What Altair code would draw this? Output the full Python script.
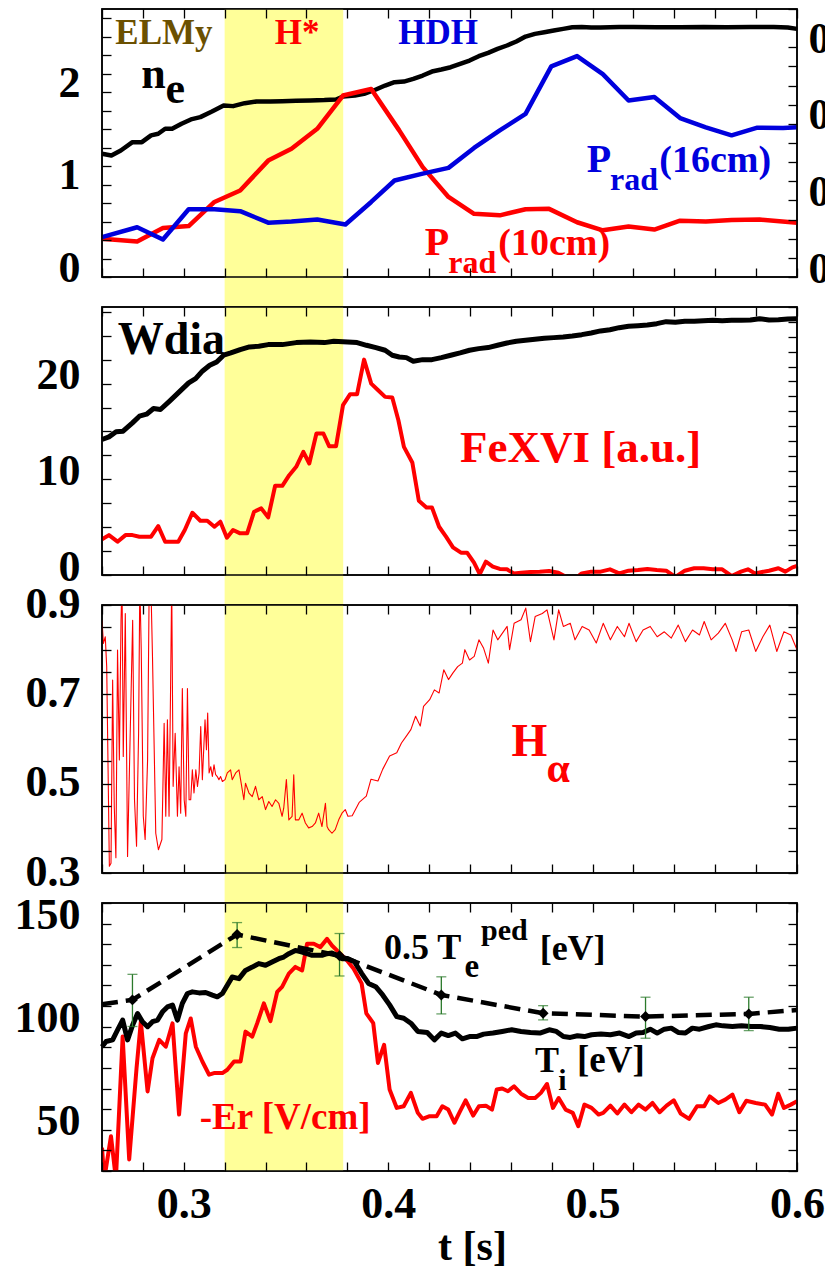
import json
import altair as alt
import pandas as pd

# ---------------- data ----------------
BAND_T = [0.32, 0.378]

NE_T = [0.2600, 0.2646, 0.2692, 0.2749, 0.2795, 0.2840, 0.2875, 0.2909, 0.2943, 0.2989, 0.3035, 0.3081, 0.3138,
        0.3195, 0.3241, 0.3298, 0.3356, 0.3424, 0.3482, 0.3550, 0.3619, 0.3688, 0.3745, 0.3779, 0.3837, 0.3882,
        0.3940, 0.3985, 0.4031, 0.4077, 0.4123, 0.4169, 0.4214, 0.4260, 0.4306, 0.4352, 0.4398, 0.4443, 0.4489,
        0.4535, 0.4581, 0.4627, 0.4672, 0.4718, 0.4764, 0.4810, 0.4856, 0.4901, 0.4947, 0.4993, 0.5039, 0.5085,
        0.5130, 0.5199, 0.5314, 0.5428, 0.5543, 0.5657, 0.5772, 0.5886, 0.5955, 0.6000]
NE_V = [1.333, 1.315, 1.369, 1.459, 1.459, 1.532, 1.550, 1.604, 1.604, 1.658, 1.705, 1.730, 1.791, 1.856, 1.849,
        1.881, 1.899, 1.899, 1.903, 1.906, 1.910, 1.914, 1.921, 1.953, 1.964, 1.982, 2.029, 2.072, 2.108, 2.115,
        2.144, 2.180, 2.223, 2.245, 2.270, 2.306, 2.342, 2.389, 2.425, 2.468, 2.505, 2.548, 2.602, 2.631, 2.649,
        2.667, 2.685, 2.703, 2.706, 2.699, 2.699, 2.703, 2.706, 2.706, 2.703, 2.703, 2.706, 2.703, 2.706, 2.706,
        2.699, 2.685]

P10_T = [0.260, 0.2772, 0.2898, 0.3024, 0.3150, 0.3276, 0.3413, 0.3527, 0.3653, 0.3779, 0.3917, 0.4054, 0.4169,
         0.4295, 0.4420, 0.4546, 0.4672, 0.4787, 0.4924, 0.5050, 0.5176, 0.5302, 0.5428, 0.5554, 0.5680, 0.5817, 0.6]
P10_V = [0.100, 0.093, 0.128, 0.133, 0.196, 0.226, 0.304, 0.335, 0.387, 0.474, 0.491, 0.383, 0.287, 0.209, 0.165,
         0.161, 0.177, 0.178, 0.143, 0.122, 0.132, 0.124, 0.147, 0.145, 0.149, 0.150, 0.142]

P16_T = [0.260, 0.2772, 0.2898, 0.3024, 0.3150, 0.3276, 0.3413, 0.3527, 0.3653, 0.3791, 0.3917, 0.4031, 0.4169,
         0.4295, 0.4420, 0.4546, 0.4672, 0.4798, 0.4924, 0.5050, 0.5176, 0.5302, 0.5428, 0.5554, 0.5680, 0.5806,
         0.5932, 0.6]
P16_V = [0.104, 0.130, 0.098, 0.177, 0.177, 0.172, 0.142, 0.145, 0.150, 0.137, 0.196, 0.252, 0.270, 0.285, 0.337,
         0.383, 0.426, 0.550, 0.577, 0.530, 0.461, 0.470, 0.415, 0.391, 0.370, 0.390, 0.389, 0.391]

W_T = [0.2600, 0.2634, 0.2669, 0.2703, 0.2749, 0.2783, 0.2818, 0.2852, 0.2886, 0.2932, 0.2978, 0.3024, 0.3058,
       0.3092, 0.3127, 0.3161, 0.3195, 0.3230, 0.3276, 0.3321, 0.3367, 0.3413, 0.3482, 0.3550, 0.3619, 0.3688,
       0.3734, 0.3802, 0.3848, 0.3894, 0.3940, 0.3985, 0.4020, 0.4054, 0.4089, 0.4123, 0.4169, 0.4214, 0.4260,
       0.4306, 0.4352, 0.4398, 0.4443, 0.4489, 0.4535, 0.4581, 0.4627, 0.4672, 0.4718, 0.4764, 0.4810, 0.4856,
       0.4901, 0.4947, 0.4993, 0.5039, 0.5085, 0.5130, 0.5176, 0.5222, 0.5268, 0.5314, 0.5360, 0.5405, 0.5451,
       0.5497, 0.5543, 0.5588, 0.5634, 0.5680, 0.5726, 0.5772, 0.5817, 0.5863, 0.5909, 0.5955, 0.6000]
W_V = [14.16, 14.43, 14.96, 15.03, 15.90, 16.59, 16.80, 17.39, 17.29, 18.19, 19.13, 20.07, 20.52, 21.32, 21.91,
       22.26, 22.96, 23.20, 23.55, 23.83, 23.90, 24.07, 24.07, 24.28, 24.35, 24.28, 24.42, 24.35, 24.28, 24.00,
       23.76, 23.48, 22.96, 22.78, 22.71, 22.33, 22.50, 22.50, 22.71, 22.96, 23.20, 23.48, 23.65, 23.76, 24.00,
       24.24, 24.42, 24.52, 24.63, 24.73, 24.80, 24.87, 24.97, 25.11, 25.29, 25.50, 25.63, 25.84, 25.98, 26.05,
       26.12, 26.26, 26.47, 26.40, 26.50, 26.50, 26.57, 26.61, 26.57, 26.61, 26.61, 26.64, 26.78, 26.64, 26.68,
       26.75, 26.78]

FE_T = [0.2600, 0.2634, 0.2676, 0.2715, 0.2749, 0.2783, 0.2840, 0.2875, 0.2909, 0.2973, 0.3005, 0.3042, 0.3081,
        0.3115, 0.3150, 0.3179, 0.3211, 0.3241, 0.3276, 0.3310, 0.3344, 0.3379, 0.3413, 0.3447, 0.3482, 0.3516,
        0.3550, 0.3585, 0.3614, 0.3649, 0.3683, 0.3711, 0.3745, 0.3779, 0.3814, 0.3848, 0.3882, 0.3917, 0.3951,
        0.3985, 0.4020, 0.4050, 0.4077, 0.4118, 0.4150, 0.4187, 0.4214, 0.4249, 0.4283, 0.4317, 0.4356, 0.4386,
        0.4420, 0.4448, 0.4478, 0.4512, 0.4546, 0.4581, 0.4615, 0.4650, 0.4695, 0.4741, 0.4787, 0.4833, 0.4879,
        0.4913, 0.4947, 0.4993, 0.5039, 0.5085, 0.5130, 0.5176, 0.5222, 0.5268, 0.5314, 0.5360, 0.5405, 0.5451,
        0.5497, 0.5543, 0.5588, 0.5634, 0.5680, 0.5726, 0.5760, 0.5794, 0.5863, 0.5909, 0.5943, 0.5978, 0.6000]
FE_V = [3.72, 4.17, 3.48, 4.17, 4.17, 4.00, 4.00, 5.11, 3.48, 3.48, 4.70, 6.50, 5.67, 5.67, 5.04, 5.57, 3.90, 4.70,
        4.35, 4.35, 6.61, 6.96, 6.02, 9.32, 9.32, 10.43, 11.30, 12.87, 11.65, 14.78, 14.78, 13.46, 13.46, 17.74,
        18.89, 18.89, 22.50, 20.00, 19.30, 18.61, 18.54, 16.17, 13.39, 11.76, 7.76, 7.06, 7.06, 5.04, 4.00, 2.89,
        2.33, 2.33, 1.29, 0.10, 1.39, 0.87, 0.63, 0.59, 0.17, 0.24, 0.31, 0.35, 0.42, 0.24, -0.30, -0.40, 0.17,
        0.35, 0.35, 0.59, 0.17, 0.45, 0.52, 0.63, 0.52, 0.45, -0.20, 0.45, 0.70, 0.70, 0.59, 0.59, -0.10, 0.35,
        0.59, 0.17, 0.45, 0.70, 0.35, 0.80, 0.94]

HA_T = [0.2600, 0.2607, 0.2616, 0.2623, 0.2636, 0.2644, 0.2652, 0.2660, 0.2668, 0.2676,
        0.2685, 0.2693, 0.2698, 0.2704, 0.2714, 0.2725, 0.2737, 0.2750, 0.2759, 0.2769,
        0.2779, 0.2785, 0.2792, 0.2802, 0.2811, 0.2823, 0.2831, 0.2839, 0.2847, 0.2863,
        0.2876, 0.2893, 0.2904, 0.2912, 0.2920, 0.2928, 0.2935, 0.2941, 0.2948, 0.2958,
        0.2969, 0.2977, 0.2985, 0.2993, 0.3002, 0.3010, 0.3018, 0.3026, 0.3034, 0.3042,
        0.3050, 0.3059, 0.3067, 0.3075, 0.3083, 0.3091, 0.3104, 0.3111, 0.3117, 0.3124,
        0.3132, 0.3140, 0.3148, 0.3156, 0.3164, 0.3172, 0.3180, 0.3189, 0.3202, 0.3213,
        0.3229, 0.3237, 0.3254, 0.3270, 0.3278, 0.3294, 0.3302, 0.3319, 0.3335, 0.3351,
        0.3367, 0.3384, 0.3400, 0.3416, 0.3432, 0.3449, 0.3465, 0.3481, 0.3489, 0.3502,
        0.3514, 0.3530, 0.3538, 0.3546, 0.3563, 0.3579, 0.3595, 0.3611, 0.3628, 0.3644,
        0.3660, 0.3676, 0.3693, 0.3701, 0.3709, 0.3725, 0.3741, 0.3758, 0.3774, 0.3790, 0.3803,
        0.3824, 0.3858, 0.3893, 0.3916, 0.3950, 0.3973, 0.4007, 0.4042, 0.4065, 0.4088,
        0.4111, 0.4134, 0.4157, 0.4173, 0.4203, 0.4226, 0.4249, 0.4272, 0.4295, 0.4317,
        0.4340, 0.4363, 0.4375, 0.4398, 0.4421, 0.4444, 0.4467, 0.4490, 0.4513, 0.4536,
        0.4559, 0.4582, 0.4594, 0.4616, 0.4650, 0.4673, 0.4696, 0.4719, 0.4754, 0.4777,
        0.4811, 0.4834, 0.4857, 0.4891, 0.4914, 0.4949, 0.4983, 0.5018, 0.5052, 0.5087,
        0.5121, 0.5156, 0.5178, 0.5213, 0.5247, 0.5282, 0.5316, 0.5351, 0.5385, 0.5419,
        0.5454, 0.5489, 0.5523, 0.5546, 0.5580, 0.5615, 0.5649, 0.5683, 0.5702, 0.5729,
        0.5764, 0.5798, 0.5833, 0.5867, 0.5901, 0.5936, 0.5970, 0.6000]
HA_V = [0.866, 0.814, 0.829, 0.762, 0.315, 0.322, 0.732, 0.449, 0.334, 0.799,
        0.553, 0.866, 0.950, 0.561, 0.881, 0.337, 0.591, 0.866, 0.464, 0.360,
        0.613, 0.950, 0.799, 0.427, 0.375, 0.553, 0.950, 0.950, 0.784, 0.389,
        0.352, 0.375, 0.635, 0.427, 0.643, 0.427, 0.695, 0.950, 0.494, 0.613,
        0.427, 0.538, 0.434, 0.713, 0.464, 0.427, 0.713, 0.464, 0.464, 0.531,
        0.479, 0.531, 0.494, 0.524, 0.628, 0.509, 0.643, 0.576, 0.658, 0.524,
        0.538, 0.516, 0.542, 0.520, 0.516, 0.509, 0.516, 0.505, 0.509, 0.524,
        0.531, 0.509, 0.524, 0.531, 0.509, 0.464, 0.501, 0.479, 0.471, 0.494,
        0.464, 0.471, 0.442, 0.460, 0.449, 0.464, 0.456, 0.427, 0.445, 0.509,
        0.419, 0.427, 0.520, 0.419, 0.419, 0.434, 0.412, 0.401, 0.404, 0.412,
        0.434, 0.404, 0.456, 0.404, 0.397, 0.389, 0.397, 0.419, 0.434, 0.442, 0.427,
        0.428, 0.458, 0.472, 0.510, 0.506, 0.532, 0.562, 0.569, 0.591, 0.606,
        0.621, 0.651, 0.629, 0.673, 0.688, 0.710, 0.703, 0.755, 0.733, 0.748,
        0.762, 0.770, 0.800, 0.777, 0.785, 0.822, 0.803, 0.770, 0.844, 0.822,
        0.837, 0.852, 0.800, 0.859, 0.867, 0.893, 0.818, 0.874, 0.881, 0.889,
        0.822, 0.889, 0.852, 0.859, 0.822, 0.852, 0.844, 0.815, 0.859, 0.822,
        0.852, 0.829, 0.859, 0.818, 0.844, 0.852, 0.829, 0.840, 0.826, 0.855,
        0.818, 0.844, 0.833, 0.863, 0.822, 0.837, 0.859, 0.822, 0.796, 0.840,
        0.844, 0.796, 0.829, 0.855, 0.796, 0.840, 0.833, 0.800]

TI_T = [0.2600, 0.2620, 0.2652, 0.2676, 0.2701, 0.2725, 0.2750, 0.2774, 0.2798, 0.2823,
        0.2847, 0.2872, 0.2896, 0.2920, 0.2945, 0.2969, 0.2993, 0.3018, 0.3042, 0.3075,
        0.3107, 0.3140, 0.3164, 0.3189, 0.3213, 0.3237, 0.3270, 0.3302, 0.3335, 0.3367,
        0.3400, 0.3432, 0.3465, 0.3489, 0.3514, 0.3546, 0.3579, 0.3603, 0.3628, 0.3652,
        0.3676, 0.3701, 0.3725, 0.3750, 0.3774, 0.3801, 0.3835, 0.3870, 0.3904, 0.3939,
        0.3973, 0.4007, 0.4042, 0.4076, 0.4111, 0.4145, 0.4191, 0.4226, 0.4260, 0.4294,
        0.4329, 0.4363, 0.4398, 0.4432, 0.4467, 0.4513, 0.4558, 0.4604, 0.4650, 0.4696,
        0.4742, 0.4788, 0.4823, 0.4857, 0.4891, 0.4926, 0.4960, 0.4995, 0.5041, 0.5087,
        0.5132, 0.5178, 0.5213, 0.5247, 0.5282, 0.5316, 0.5351, 0.5385, 0.5419, 0.5454,
        0.5488, 0.5523, 0.5569, 0.5603, 0.5638, 0.5684, 0.5729, 0.5775, 0.5821, 0.5867,
        0.5913, 0.5959, 0.6000]
TI_V = [90.3, 92.8, 93.6, 98.4, 103.2, 93.6, 100.8, 106.4, 102.4, 100.0,
        102.4, 103.2, 107.2, 109.6, 110.5, 103.2, 111.3, 116.1, 116.9, 116.4,
        116.6, 115.3, 114.5, 116.1, 120.1, 124.1, 123.3, 127.3, 128.9, 130.6,
        129.8, 131.4, 133.0, 133.8, 135.4, 137.0, 136.2, 135.4, 134.6, 134.6,
        134.6, 135.4, 135.7, 134.6, 133.0, 133.1, 131.5, 125.9, 121.0, 119.4,
        115.4, 110.6, 104.9, 104.1, 101.7, 97.7, 97.2, 93.6, 96.9, 95.7,
        96.9, 94.1, 95.2, 95.2, 96.4, 96.9, 97.7, 98.5, 97.7, 97.2,
        96.9, 98.5, 97.7, 95.2, 94.8, 95.6, 95.2, 96.1, 96.4, 96.1,
        96.9, 95.2, 96.9, 97.2, 98.8, 96.9, 98.8, 99.3, 97.2, 96.9,
        99.3, 98.8, 100.1, 100.9, 100.4, 100.1, 100.4, 100.1, 100.1, 99.6,
        98.8, 98.8, 99.3]

ER_T = [0.2600, 0.2611, 0.2644, 0.2668, 0.2701, 0.2733, 0.2769, 0.2790, 0.2823, 0.2847,
        0.2880, 0.2912, 0.2945, 0.2977, 0.3010, 0.3034, 0.3059, 0.3091, 0.3124, 0.3148,
        0.3189, 0.3213, 0.3246, 0.3278, 0.3302, 0.3335, 0.3359, 0.3392, 0.3424, 0.3457,
        0.3481, 0.3514, 0.3546, 0.3579, 0.3603, 0.3636, 0.3668, 0.3701, 0.3725, 0.3758,
        0.3798, 0.3831, 0.3870, 0.3893, 0.3927, 0.3950, 0.3980, 0.4007, 0.4042, 0.4076,
        0.4111, 0.4145, 0.4168, 0.4203, 0.4237, 0.4265, 0.4294, 0.4324, 0.4352, 0.4379,
        0.4416, 0.4444, 0.4478, 0.4508, 0.4531, 0.4558, 0.4586, 0.4616, 0.4650, 0.4685,
        0.4719, 0.4747, 0.4777, 0.4806, 0.4834, 0.4868, 0.4903, 0.4930, 0.4960, 0.4995,
        0.5029, 0.5052, 0.5087, 0.5121, 0.5156, 0.5190, 0.5225, 0.5259, 0.5293, 0.5328,
        0.5362, 0.5397, 0.5431, 0.5472, 0.5511, 0.5546, 0.5573, 0.5615, 0.5649, 0.5684,
        0.5718, 0.5752, 0.5798, 0.5844, 0.5878, 0.5908, 0.5936, 0.5970, 0.6000]
ER_V = [41.3, 26.0, 46.9, 26.0, 95.2, 35.6, 79.9, 102.4, 68.6, 84.7,
        93.6, 90.3, 101.6, 57.4, 96.8, 104.0, 90.3, 83.1, 76.7, 77.5,
        77.5, 79.1, 83.1, 83.1, 97.6, 95.2, 101.6, 111.3, 102.7, 116.9,
        119.3, 125.7, 129.0, 127.3, 140.2, 140.2, 138.6, 142.6, 139.4, 136.2,
        132.2, 128.1, 121.0, 106.5, 101.7, 82.4, 91.2, 69.5, 60.6, 61.4,
        67.9, 58.2, 55.3, 56.6, 56.6, 61.4, 59.8, 53.4, 59.0, 64.3,
        56.9, 61.4, 61.7, 59.8, 69.5, 70.0, 68.7, 71.1, 67.5, 65.4,
        65.4, 67.9, 72.2, 60.6, 65.4, 59.8, 58.2, 51.7, 62.2, 60.6,
        57.4, 58.2, 61.7, 57.9, 62.2, 58.5, 62.2, 59.8, 63.0, 58.5,
        61.7, 64.3, 57.9, 55.3, 61.4, 61.4, 66.2, 63.0, 64.6, 67.1,
        58.5, 64.1, 63.0, 62.2, 57.4, 67.5, 60.6, 62.2, 63.8]

TE_T = [0.2749, 0.3261, 0.3762, 0.4260, 0.4758, 0.5259, 0.5764]
TE_V = [113.0, 144.7, 134.4, 115.4, 106.5, 104.9, 106.2]
TE_LO = [100.1, 138.4, 124.6, 106.2, 103.3, 94.4, 98.1]
TE_HI = [125.4, 150.5, 145.2, 124.2, 110.2, 114.3, 114.3]
TE_LINE_T = [0.2600, 0.2749, 0.3261, 0.3762, 0.4260, 0.4758, 0.5259, 0.5764, 0.6000]
TE_LINE_V = [110.9, 113.0, 144.7, 134.4, 115.4, 106.5, 104.9, 106.2, 108.1]

# axis ticks and labels
X_TICKS = [0.26, 0.28, 0.3, 0.32, 0.34, 0.36, 0.38, 0.4, 0.42, 0.44, 0.46, 0.48, 0.5, 0.52, 0.54, 0.56, 0.58, 0.6]
X_LABELED = [0.3, 0.4, 0.5, 0.6]
NE_TICKS = [0, 0.2, 0.4, 0.6, 0.8, 1, 1.2, 1.4, 1.6, 1.8, 2, 2.2, 2.4, 2.6, 2.8]
NE_LABELED = [0, 1, 2]
PR_TICKS = [0, 0.05, 0.1, 0.15, 0.2, 0.25, 0.3, 0.35, 0.4, 0.45, 0.5, 0.55, 0.6, 0.65, 0.7]
PR_LABELED = [0, 0.2, 0.4, 0.6]
W_TICKS = [0, 2.5, 5, 7.5, 10, 12.5, 15, 17.5, 20, 22.5, 25, 27.5]
W_LABELED = [0, 10, 20]
W_RTICKS = [round(28 * i / 18, 3) for i in range(19)]
HA_TICKS = [0.3, 0.35, 0.4, 0.45, 0.5, 0.55, 0.6, 0.65, 0.7, 0.75, 0.8, 0.85, 0.9]
HA_LABELED = [0.3, 0.5, 0.7, 0.9]
P4_TICKS = [30, 40, 50, 60, 70, 80, 90, 100, 110, 120, 130, 140, 150, 160]
P4_LABELED = [50, 100, 150]

# ---------------- style ----------------
W = 695
H = 268
GAP = 30
FONT = "Liberation Serif"
TICK = 9
YELLOW = "#FFFF99"
RED = "#FF0000"
BLUE = "#0000DD"
BROWN = "#6B5000"
GREEN = "#2B7A2B"

XS = alt.Scale(domain=[0.26, 0.6], nice=False, zero=False)


def yscale(dom):
    return alt.Scale(domain=dom, nice=False, zero=False)


def lab_expr(labeled, fmt):
    return "indexof(%s, datum.value) >= 0 ? format(datum.value, '%s') : ''" % (json.dumps(labeled), fmt)


def common_axis(**kw):
    base = dict(offset=-TICK, tickSize=TICK, tickColor="black", tickWidth=1.3, domain=False, grid=False,
                zindex=1, labelOverlap=False, labelFlush=False, title=None)
    base.update(kw)
    return alt.Axis(**base)


LBL = dict(labelFont=FONT, labelFontWeight="bold", labelFontSize=44, labelColor="black")


def x_bottom(show=False):
    if show:
        return common_axis(orient="bottom", values=X_TICKS, labelExpr=lab_expr(X_LABELED, ".1f"),
                           labelPadding=11, title="t [s]", titleFont=FONT, titleFontSize=42,
                           titleFontWeight="bold", titleColor="black", titleX=370, titleY=97,
                           titleAlign="center", titleBaseline="alphabetic", **LBL)
    return common_axis(orient="bottom", values=X_TICKS, labels=False)


def x_top():
    return common_axis(orient="top", values=X_TICKS, labels=False)


def y_left(ticks, labeled, fmt, loff):
    return common_axis(orient="left", values=ticks, labelExpr=lab_expr(labeled, fmt), labelPadding=22,
                       labelOffset=loff, **LBL)


def y_right(ticks, labeled=None, fmt=".1f", loff=0):
    if labeled is None:
        return common_axis(orient="right", values=ticks, labels=False)
    return common_axis(orient="right", values=ticks, labelExpr=lab_expr(labeled, fmt), labelPadding=11,
                       labelOffset=loff, **LBL)


def band(ext):
    df = pd.DataFrame({"a": [BAND_T[0]], "b": [BAND_T[1]]})
    return alt.Chart(df).mark_rect(color=YELLOW).encode(
        x=alt.X("a:Q", scale=XS, axis=x_bottom(ext == 0)), x2="b:Q",
        y=alt.value(0), y2=alt.value(H + ext))


def frame():
    return alt.Chart(pd.DataFrame({"k": [1]})).mark_rect(
        filled=False, color="black", strokeWidth=1.5).encode(strokeOpacity=alt.value(1))


def line(T, V, dom, color, width, xaxis=None, yaxis=None, dash=None, clip=False):
    df = pd.DataFrame({"t": T, "v": V})
    kw = dict(color=color, strokeWidth=width, clip=clip, strokeJoin="round")
    if dash:
        kw["strokeDash"] = dash
    return alt.Chart(df).mark_line(**kw).encode(
        x=alt.X("t:Q", scale=XS, axis=xaxis),
        y=alt.Y("v:Q", scale=yscale(dom), axis=yaxis))


def text(rows, dom, color, size, yaxis=None):
    df = pd.DataFrame(rows, columns=["t", "v", "s"])
    return alt.Chart(df).mark_text(font=FONT, fontWeight="bold", fontSize=size, color=color,
                                   align="left", baseline="alphabetic").encode(
        x=alt.X("t:Q", scale=XS, axis=None),
        y=alt.Y("v:Q", scale=yscale(dom), axis=yaxis),
        text="s:N")


NE_DOM = [0, 2.9]
PR_DOM = [0, 0.7]
W_DOM = [0, 28]
HA_DOM = [0.3, 0.9]
P4_DOM = [30, 160]

# ---------------- panel 1 ----------------
p1 = alt.layer(
    band(GAP),
    line(NE_T, NE_V, NE_DOM, "black", 4.5, xaxis=x_top(), yaxis=y_left(NE_TICKS, NE_LABELED, ".0f", -9)),
    line(P10_T, P10_V, PR_DOM, RED, 4.5, yaxis=y_right(PR_TICKS, PR_LABELED, ".1f", -8)),
    line(P16_T, P16_V, PR_DOM, BLUE, 4.5),
    text([(0.2665, 2.52, "ELMy")], NE_DOM, BROWN, 35),
    text([(0.3445, 2.52, "H*")], NE_DOM, RED, 35),
    text([(0.4049, 2.52, "HDH")], NE_DOM, BLUE, 35),
    text([(0.2792, 2.04, "n"), (0.2911, 1.88, "e")], NE_DOM, "black", 44),
    text([(0.4971, 1.136, "P")], NE_DOM, BLUE, 40),
    text([(0.5085, 0.938, "rad")], NE_DOM, BLUE, 32),
    text([(0.5326, 1.136, "(16cm)")], NE_DOM, BLUE, 38),
    text([(0.4179, 0.235, "P")], NE_DOM, RED, 40),
    text([(0.4294, 0.047, "rad")], NE_DOM, RED, 32),
    text([(0.4539, 0.235, "(10cm)")], NE_DOM, RED, 38),
    frame(),
).resolve_scale(y="independent").resolve_axis(x="independent", y="independent").properties(width=W, height=H)

# ---------------- panel 2 ----------------
p2 = alt.layer(
    band(GAP),
    line(W_T, W_V, W_DOM, "black", 5, xaxis=x_top(), yaxis=y_left(W_TICKS, W_LABELED, ".0f", -8)),
    line(FE_T, FE_V, W_DOM, RED, 4, yaxis=y_right(W_RTICKS), clip=True),
    text([(0.2677, 23.06, "Wdia")], W_DOM, "black", 46),
    text([(0.4351, 11.81, "FeXVI [a.u.]")], W_DOM, RED, 45),
    frame(),
).resolve_axis(x="independent", y="independent").properties(width=W, height=H)

# ---------------- panel 3 ----------------
p3 = alt.layer(
    band(GAP),
    line(HA_T, HA_V, HA_DOM, RED, 1.1, xaxis=x_top(), yaxis=y_left(HA_TICKS, HA_LABELED, ".1f", -1), clip=True),
    text([(0.4603, 0.563, "H")], HA_DOM, RED, 46, yaxis=y_right(HA_TICKS)),
    text([(0.4775, 0.503, "α")], HA_DOM, RED, 42),
    frame(),
).resolve_axis(x="independent", y="independent").properties(width=W, height=H)

# ---------------- panel 4 ----------------
err_df = pd.DataFrame({"t": TE_T, "lo": TE_LO, "hi": TE_HI})
err_bars = alt.Chart(err_df).mark_rule(color=GREEN, strokeWidth=1.3).encode(
    x=alt.X("t:Q", scale=XS, axis=None),
    y=alt.Y("lo:Q", scale=yscale(P4_DOM), axis=None), y2="hi:Q")
cap_lo = alt.Chart(err_df).mark_tick(color=GREEN, orient="horizontal", size=10, thickness=1.3).encode(
    x=alt.X("t:Q", scale=XS, axis=None), y=alt.Y("lo:Q", scale=yscale(P4_DOM), axis=None))
cap_hi = alt.Chart(err_df).mark_tick(color=GREEN, orient="horizontal", size=10, thickness=1.3).encode(
    x=alt.X("t:Q", scale=XS, axis=None), y=alt.Y("hi:Q", scale=yscale(P4_DOM), axis=None))
te_pts = alt.Chart(pd.DataFrame({"t": TE_T, "v": TE_V})).mark_point(
    shape="diamond", filled=True, size=120, color="black", opacity=1).encode(
    x=alt.X("t:Q", scale=XS, axis=None), y=alt.Y("v:Q", scale=yscale(P4_DOM), axis=None))

p4 = alt.layer(
    band(0),
    line(ER_T, ER_V, P4_DOM, RED, 4, xaxis=x_top(), yaxis=y_left(P4_TICKS, P4_LABELED, ".0f", -8), clip=True),
    line(TI_T, TI_V, P4_DOM, "black", 5, yaxis=y_right(P4_TICKS)),
    line(TE_LINE_T, TE_LINE_V, P4_DOM, "black", 4.5, dash=[16, 8]),
    err_bars, cap_lo, cap_hi, te_pts,
    text([(0.3979, 132.7, "0.5 T")], P4_DOM, "black", 36),
    text([(0.4373, 124.0, "e")], P4_DOM, "black", 33),
    text([(0.4454, 142.0, "ped")], P4_DOM, "black", 30),
    text([(0.4741, 132.3, "[eV]")], P4_DOM, "black", 36),
    text([(0.4718, 77.8, "T")], P4_DOM, "black", 36),
    text([(0.4832, 69.5, "i")], P4_DOM, "black", 30),
    text([(0.4924, 77.8, "[eV]")], P4_DOM, "black", 37),
    text([(0.3078, 50.5, "-Er [V/cm]")], P4_DOM, RED, 37),
    frame(),
).resolve_axis(x="independent", y="independent").properties(width=W, height=H)

chart = alt.vconcat(p1, p2, p3, p4, spacing=GAP, bounds="flush").properties(
    padding={"left": 13, "top": -22, "right": -39, "bottom": 0},
    background="white",
).configure_view(stroke="black", strokeWidth=1.5)

chart.save("out.html", embed_options={"renderer": "svg", "actions": False})
